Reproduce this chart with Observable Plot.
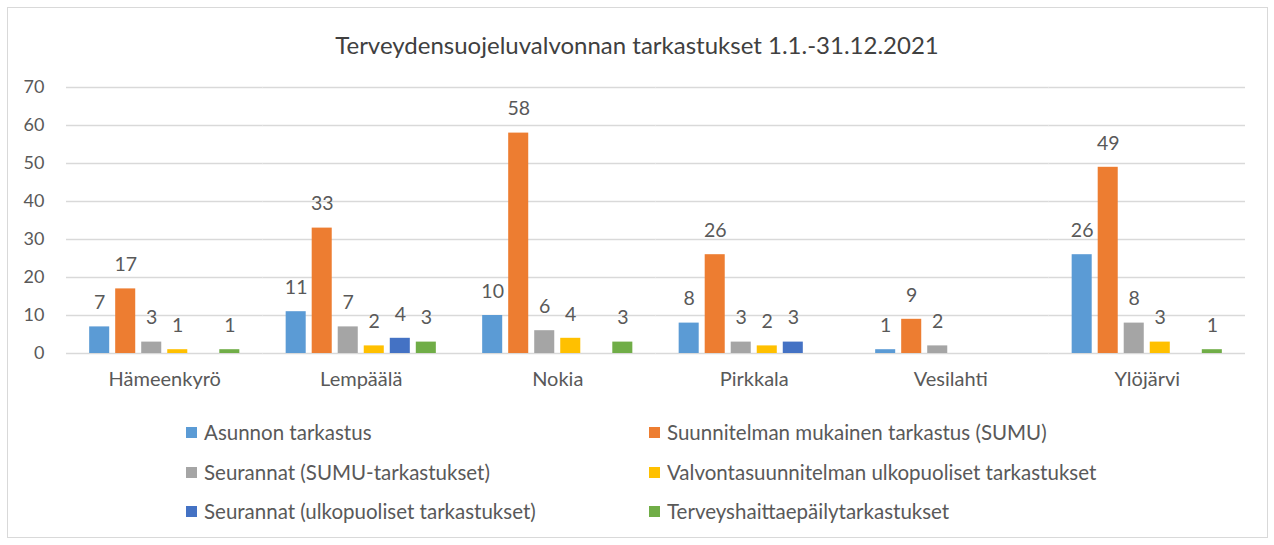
<!DOCTYPE html>
<html>
<head>
<meta charset="utf-8">
<script src="https://cdn.jsdelivr.net/npm/d3@7"></script>
<script src="https://cdn.jsdelivr.net/npm/@observablehq/plot@0.6"></script>
<style>
  html, body { margin: 0; padding: 0; background: #fff; }
  #wrap { position: relative; width: 1274px; height: 545px; overflow: hidden; font-family: Lato, "Open Sans", sans-serif; }
  #frame { position: absolute; left: 7px; top: 7px; width: 1261px; height: 531px; box-sizing: border-box; border: 1px solid #d9d9d9; }
  #title { position: absolute; left: 0; top: 30px; width: 1274px; text-align: center; font-size: 24px; color: #404040; }
  #chart { position: absolute; left: 0; top: 70px; }
  .lg { position: absolute; display: flex; align-items: center; font-size: 20.5px; color: #595959; white-space: nowrap; }
  .lg span.sw { display: inline-block; width: 11px; height: 11px; margin-right: 7px; }
</style>
</head>
<body>
<div id="wrap">
  <div id="frame"></div>
  <div id="title"></div>
  <div id="chart"></div>
  <div id="legend"></div>
</div>
<script>
const titleText = "Terveydensuojeluvalvonnan tarkastukset 1.1.-31.12.2021";
const categories = ["Hämeenkyrö", "Lempäälä", "Nokia", "Pirkkala", "Vesilahti", "Ylöjärvi"];
const series = [
  "Asunnon tarkastus",
  "Suunnitelman mukainen tarkastus (SUMU)",
  "Seurannat (SUMU-tarkastukset)",
  "Valvontasuunnitelman ulkopuoliset tarkastukset",
  "Seurannat (ulkopuoliset tarkastukset)",
  "Terveyshaittaepäilytarkastukset"
];
const colors = ["#5B9BD5", "#ED7D31", "#A5A5A5", "#FFC000", "#4472C4", "#70AD47"];
const asunnon       = [7, 11, 10, 8, 1, 26];
const sumu          = [17, 33, 58, 26, 9, 49];
const seurannatSumu = [3, 7, 6, 3, 2, 8];
const valvonta      = [1, 2, 4, 2, 0, 3];
const seurannatUlko = [0, 4, 0, 3, 0, 0];
const terveys       = [1, 3, 3, 0, 0, 1];
const yTicks = [0, 10, 20, 30, 40, 50, 60, 70];

const seriesValues = [asunnon, sumu, seurannatSumu, valvonta, seurannatUlko, terveys];
const data = [];
categories.forEach((c, i) => {
  series.forEach((s, j) => {
    data.push({cat: c, series: s, value: seriesValues[j][i]});
  });
});
const labeled = data.filter(d => d.value > 0);

document.getElementById("title").textContent = titleText;

const chart = Plot.plot({
  width: 1274,
  height: 330,
  marginTop: 17,
  marginBottom: 47,
  marginLeft: 66,
  marginRight: 29,
  style: {fontFamily: "Lato, 'Open Sans', sans-serif", color: "#595959", background: "transparent"},
  fx: {domain: categories, padding: 0, round: false, label: null, axis: null},
  x: {domain: series, paddingInner: 0.23, paddingOuter: 0.89, round: false, axis: null},
  y: {domain: [0, 70], label: null},
  color: {domain: series, range: colors},
  marks: [
    Plot.gridY(yTicks, {stroke: "#d9d9d9", strokeOpacity: 1, strokeWidth: 1.5}),
    Plot.axisY(yTicks, {tickSize: 0, tickPadding: 22, fontSize: 18, fill: "#595959", label: null}),
    Plot.axisFx({anchor: "bottom", tickSize: 0, tickPadding: 18, fontSize: 20, fill: "#595959", label: null}),
    Plot.barY(data, {fx: "cat", x: "series", y: "value", fill: "series"}),
    Plot.text(labeled, {fx: "cat", x: "series", y: "value", text: d => String(d.value), dy: -24, fontSize: 19.5, fill: "#595959"})
  ]
});
document.getElementById("chart").appendChild(chart);

const legendPos = [
  [186, 432], [649, 432],
  [186, 472], [649, 472],
  [186, 511], [649, 511]
];
const legend = document.getElementById("legend");
series.forEach((s, i) => {
  const item = document.createElement("div");
  item.className = "lg";
  item.style.left = legendPos[i][0] + "px";
  item.style.top = (legendPos[i][1] - 12) + "px";
  item.style.height = "24px";
  const sw = document.createElement("span");
  sw.className = "sw";
  sw.style.background = colors[i];
  const tx = document.createElement("span");
  tx.textContent = s;
  item.appendChild(sw);
  item.appendChild(tx);
  legend.appendChild(item);
});
</script>
</body>
</html>
